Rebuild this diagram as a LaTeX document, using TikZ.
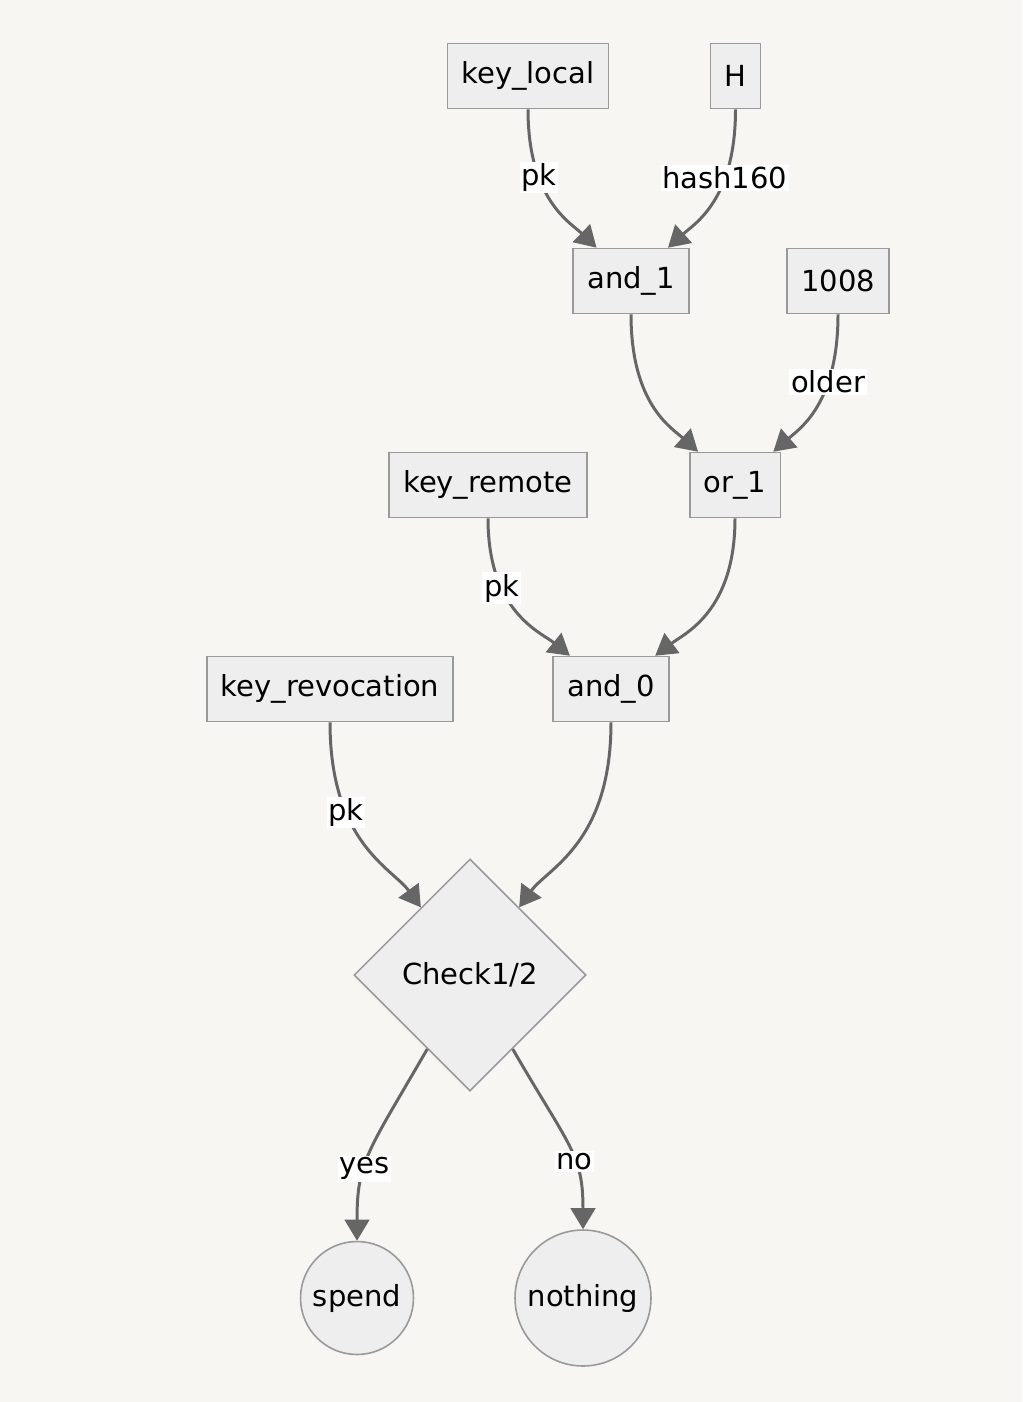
\documentclass[tikz,border=0pt]{standalone}
\usepackage{fontspec}
\setmainfont{DejaVu Sans}
\usetikzlibrary{shapes.geometric,arrows.meta}
\definecolor{bgcol}{HTML}{F7F6F3}
\definecolor{nodefill}{HTML}{EEEEEE}
\definecolor{nodeline}{HTML}{999999}
\definecolor{edgecol}{HTML}{666666}
\tikzset{
	txt/.style={font=\fontsize{16.5}{19}\selectfont},
	box/.style={txt, draw=nodeline, fill=nodefill, line width=0.9pt, inner xsep=0.28cm, minimum height=1.3cm},
	check/.style={txt, diamond, aspect=1, draw=nodeline, fill=nodefill, line width=0.9pt, inner sep=0pt, minimum size=4.64cm},
	endpt/.style={txt, circle, draw=nodeline, fill=nodefill, line width=0.9pt, inner sep=0pt},
	edge/.style={draw=edgecol, line width=1.7pt, -{Triangle[length=12pt,width=14pt]}, out=-90, out looseness=1.5, in looseness=0.6},
	lbl/.style={txt, fill=white, inner sep=1pt, pos=0.32}
}
\begin{document}
\begin{tikzpicture}[x=0.02cm, y=0.02cm]
		\fill [bgcol]	(0, 0) rectangle (1022, -1402);
		\useasboundingbox	(0, 0) rectangle (1022, -1402);

		% leaves and gates
		\node [box] (keylocal)	at (528, -76)	{key\_local};
		\node [box] (hash)		at (735.5, -76)	{H};
		\node [box] (and1)		at (631, -281)	{and\_1};
		\node [box] (delay)		at (838, -281)	{1008};
		\node [box] (keyremote)	at (488, -485)	{key\_remote};
		\node [box] (or1)		at (735, -485)	{or\_1};
		\node [box] (keyrevoc)	at (330, -689)	{key\_revocation};
		\node [box] (and0)		at (611, -689)	{and\_0};

		\node [check] (check)	at (470, -975)	{Check1/2};

		\node [endpt, minimum size=2.26cm] (spend)		at (357, -1298)	{spend};
		\node [endpt, minimum size=2.72cm] (nothing)	at (583, -1298)	{nothing};

		% connectors
		\draw [edge]	(keylocal.south) to[in=136] node[lbl]{pk} (and1.136);
		\draw [edge]	(hash.south) to[in=42] node[lbl]{hash160} (and1.42);
		\draw [edge]	(and1.south) to[in=138] (or1.138);
		\draw [edge]	(delay.south) to[in=41] node[lbl]{older} (or1.41);
		\draw [edge]	(keyremote.south) to[in=141] node[lbl]{pk} (and0.141);
		\draw [edge]	(or1.south) to[in=37] (and0.37);
		\draw [edge]	(keyrevoc.south) to[in=126] node[lbl]{pk} (check.126);
		\draw [edge]	(and0.south) to[in=54] (check.54);

		\draw [edge, out=-120, in looseness=1]	(check.-120) to[in=90] node[lbl, pos=0.6]{yes} (spend.north);
		\draw [edge, out=-60, in looseness=1]	(check.-60) to[in=90] node[lbl, pos=0.6]{no} (nothing.north);
	\end{tikzpicture}
\end{document}
